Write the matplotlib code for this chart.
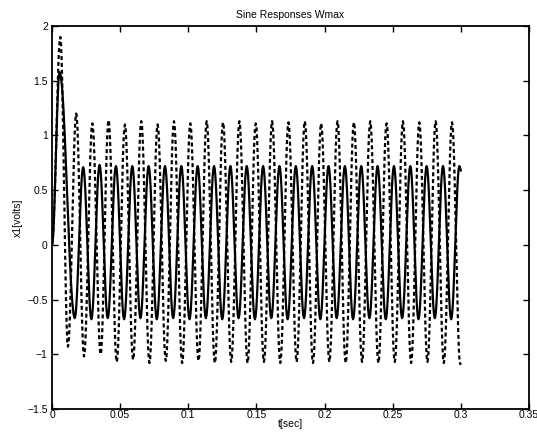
import numpy as np
import matplotlib
matplotlib.use("Agg")
import matplotlib.pyplot as plt

# Extrema (time, value)
solid_t = [0.0, 0.0056, 0.0167, 0.0229, 0.0289, 0.0349, 0.0409, 0.0469, 0.0529,
           0.0589, 0.0649, 0.0709, 0.0769, 0.0829, 0.0889, 0.0949, 0.1009, 0.1069,
           0.1129, 0.1189, 0.1249, 0.1309, 0.1369, 0.1429, 0.1489, 0.1549, 0.1609,
           0.1669, 0.1729, 0.1789, 0.1849, 0.1909, 0.1969, 0.2029, 0.2089, 0.2149,
           0.2209, 0.2269, 0.2329, 0.2389, 0.2449, 0.2509, 0.2569, 0.2629, 0.2689,
           0.2749, 0.2809, 0.2869, 0.2929, 0.2989, 0.3000]
solid_v = [0.0, 1.58, -0.67, 0.71, -0.68, 0.73, -0.67, 0.72, -0.68, 0.72, -0.67,
           0.72, -0.68, 0.72, -0.67, 0.72, -0.68, 0.72, -0.67, 0.72, -0.68, 0.72,
           -0.67, 0.72, -0.68, 0.72, -0.67, 0.72, -0.68, 0.72, -0.67, 0.72, -0.68,
           0.72, -0.67, 0.72, -0.68, 0.72, -0.67, 0.72, -0.68, 0.72, -0.67, 0.72,
           -0.68, 0.72, -0.67, 0.72, -0.68, 0.72, 0.68]

dash_t = [0.0, 0.0061, 0.0117, 0.0178, 0.0235, 0.0296, 0.0357, 0.0415, 0.0475,
          0.0535, 0.0595, 0.0655, 0.0715, 0.0775, 0.0835, 0.0895, 0.0955, 0.1015,
          0.1075, 0.1135, 0.1195, 0.1255, 0.1315, 0.1375, 0.1435, 0.1495, 0.1555,
          0.1615, 0.1675, 0.1735, 0.1795, 0.1855, 0.1915, 0.1975, 0.2035, 0.2095,
          0.2155, 0.2215, 0.2275, 0.2335, 0.2395, 0.2455, 0.2515, 0.2575, 0.2635,
          0.2695, 0.2755, 0.2815, 0.2875, 0.2935, 0.2995, 0.3000]
dash_v = [0.0, 1.90, -0.93, 1.20, -1.02, 1.11, -1.00, 1.14, -1.07, 1.10, -1.05,
          1.13, -1.08, 1.10, -1.06, 1.13, -1.08, 1.11, -1.06, 1.13, -1.08, 1.12,
          -1.07, 1.13, -1.08, 1.11, -1.07, 1.13, -1.08, 1.12, -1.07, 1.13, -1.08,
          1.11, -1.07, 1.13, -1.08, 1.12, -1.07, 1.13, -1.08, 1.11, -1.07, 1.13,
          -1.08, 1.12, -1.07, 1.13, -1.08, 1.12, -1.09, -1.08]

x_ticks = [0, 0.05, 0.1, 0.15, 0.2, 0.25, 0.3, 0.35]
x_ticklabels = ["0", "0.05", "0.1", "0.15", "0.2", "0.25", "0.3", "0.35"]
y_ticks = [-1.5, -1, -0.5, 0, 0.5, 1, 1.5, 2]
y_ticklabels = ["\u22121.5", "\u22121", "\u22120.5", "0", "0.5", "1", "1.5", "2"]


def smooth(ts, vs, n=12):
    """Connect successive extrema with half-cosine arcs."""
    xs, ys = [ts[0]], [vs[0]]
    for i in range(len(ts) - 1):
        s = np.linspace(0, 1, n + 1)[1:]
        xs.extend(ts[i] + (ts[i + 1] - ts[i]) * s)
        ys.extend(vs[i] + (vs[i + 1] - vs[i]) * (1 - np.cos(np.pi * s)) / 2)
    return np.array(xs), np.array(ys)


plt.rcParams['font.family'] = ['Liberation Sans', 'DejaVu Sans']
fig = plt.figure(figsize=(5.37, 4.32), dpi=100)
ax = fig.add_axes([52 / 537, 1 - 409 / 432, 477 / 537, 383 / 432])

xs, ys = smooth(solid_t, solid_v)
ax.plot(xs, ys, color='black', lw=1.6, solid_joinstyle='round')
xd, yd = smooth(dash_t, dash_v)
ax.plot(xd, yd, color='black', lw=1.6, linestyle=(0, (1.8, 1.3)))

ax.set_xlim(0, 0.35)
ax.set_ylim(-1.5, 2)
ax.set_xticks(x_ticks)
ax.set_xticklabels(x_ticklabels)
ax.set_yticks(y_ticks)
ax.set_yticklabels(y_ticklabels)
ax.tick_params(direction='in', length=4, width=1, top=True, right=True,
               labelsize=7.5)
ax.tick_params(axis='x', pad=1)
ax.tick_params(axis='y', pad=3)
for sp in ax.spines.values():
    sp.set_linewidth(1.3)

ax.set_title("Sine Responses Wmax", fontsize=7.5, pad=6)
ax.set_xlabel("t[sec]", fontsize=7.5, labelpad=-1)
ax.set_ylabel("x1[volts]", fontsize=7.5, labelpad=3)

fig.savefig("out.png", dpi=100)
